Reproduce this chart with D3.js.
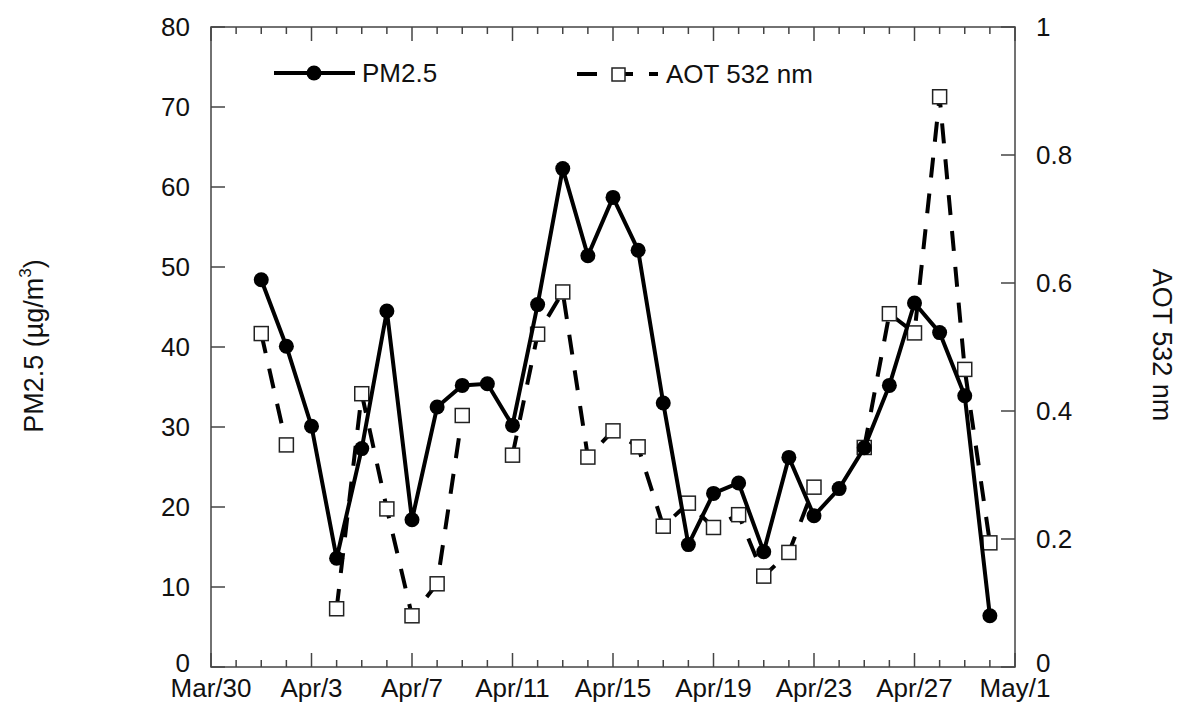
<!DOCTYPE html>
<html>
  <head>
    <script src="https://d3js.org/d3.v7.min.js"></script>
    <style>
      body { margin: 0; background: #fff; }
      text { font-family: "Liberation Sans", Arial, sans-serif; fill: #111; }
      .frame { fill: none; stroke: #444; stroke-width: 1.5; }
      .tick-line { stroke: #444; stroke-width: 1.5; }
    </style>
  </head>
  <body>
    <svg width="1185" height="709"></svg>
    <script>
      // data (daily values, April)
      var days = d3.range(1, 31).map(function(d) { return "Apr/" + d; });
      var pm25 = [48.4, 40.1, 30.1, 13.6, 27.3, 44.5, 18.4, 32.5, 35.2, 35.4,
                  30.2, 45.3, 62.3, 51.4, 58.7, 52.1, 33.0, 15.3, 21.7, 23.0,
                  14.4, 26.2, 18.9, 22.3, 27.4, 35.2, 45.5, 41.8, 33.9, 6.4];
      var aot = [0.521, 0.347, null, 0.091, 0.427, 0.247, 0.080, 0.130, 0.393, null,
                 0.331, 0.520, 0.586, 0.328, 0.369, 0.344, 0.220, 0.256, 0.218, 0.238,
                 0.142, 0.179, 0.281, null, 0.343, 0.552, 0.522, 0.891, 0.465, 0.194];
      var xTickLabels = ["Mar/30", "Apr/3", "Apr/7", "Apr/11", "Apr/15", "Apr/19", "Apr/23", "Apr/27", "May/1"];
      var leftTicks = [0, 10, 20, 30, 40, 50, 60, 70, 80];
      var rightTicks = [0, 0.2, 0.4, 0.6, 0.8, 1];

      var parse = function(s) { return d3.timeParse("%b/%d %Y")(s + " 2012"); };
      var dates = days.map(parse);
      var majorDates = xTickLabels.map(parse);

      var svg = d3.select("svg");
      var plotL = 211, plotR = 1015, plotT = 27, plotB = 667;

      var x = d3.scaleTime().domain([majorDates[0], majorDates[majorDates.length - 1]]).range([plotL, plotR]);
      var y = d3.scaleLinear().domain([0, 80]).range([plotB, plotT]);
      var y2 = d3.scaleLinear().domain([0, 1]).range([plotB, plotT]);

      var minorDates = d3.timeDay.range(majorDates[0], d3.timeDay.offset(majorDates[majorDates.length - 1], 1));

      // frame
      svg.append("rect").attr("class", "frame")
        .attr("x", plotL).attr("y", plotT).attr("width", plotR - plotL).attr("height", plotB - plotT);

      // x ticks (bottom & top, pointing inward)
      var isMajor = function(d) { return majorDates.some(function(m) { return +m === +d; }); };
      minorDates.forEach(function(d) {
        var len = isMajor(d) ? 14 : 7;
        svg.append("line").attr("class", "tick-line")
          .attr("x1", x(d)).attr("x2", x(d)).attr("y1", plotB).attr("y2", plotB - len);
        svg.append("line").attr("class", "tick-line")
          .attr("x1", x(d)).attr("x2", x(d)).attr("y1", plotT).attr("y2", plotT + len);
      });
      svg.selectAll(".xlab").data(xTickLabels).enter().append("text")
        .attr("x", function(d) { return x(parse(d)); })
        .attr("y", 697)
        .attr("text-anchor", "middle")
        .attr("font-size", 26)
        .text(function(d) { return d; });

      // zero labels sit a little higher so they clear the date labels
      var lift = function(v) { return v === 0 ? -4 : 0; };

      // left axis
      leftTicks.forEach(function(v) {
        svg.append("line").attr("class", "tick-line")
          .attr("x1", plotL).attr("x2", plotL + 14).attr("y1", y(v)).attr("y2", y(v));
        svg.append("text").attr("x", 190).attr("y", y(v) + lift(v)).attr("dy", "0.35em")
          .attr("text-anchor", "end").attr("font-size", 26).text(v);
      });

      // right axis
      rightTicks.forEach(function(v) {
        svg.append("line").attr("class", "tick-line")
          .attr("x1", plotR).attr("x2", plotR - 14).attr("y1", y2(v)).attr("y2", y2(v));
        svg.append("text").attr("x", 1036).attr("y", y2(v) + lift(v)).attr("dy", "0.35em")
          .attr("text-anchor", "start").attr("font-size", 26).text(v);
      });

      // axis titles
      var lt = svg.append("text")
        .attr("transform", "translate(43,346) rotate(-90)")
        .attr("text-anchor", "middle").attr("font-size", 27);
      lt.append("tspan").text("PM2.5 (\u00b5g/m");
      lt.append("tspan").attr("font-size", 17).attr("dy", -12).text("3");
      lt.append("tspan").attr("dy", 12).text(")");

      svg.append("text")
        .attr("transform", "translate(1153,345) rotate(90)")
        .attr("text-anchor", "middle").attr("font-size", 27)
        .text("AOT 532 nm");

      // AOT series (dashed, open squares)
      var aotLine = d3.line()
        .defined(function(d, i) { return aot[i] != null; })
        .x(function(d, i) { return x(dates[i]); })
        .y(function(d, i) { return y2(aot[i]); });
      svg.append("path").datum(aot)
        .attr("d", aotLine)
        .attr("fill", "none").attr("stroke", "#000").attr("stroke-width", 4)
        .attr("stroke-dasharray", "20,16");
      svg.selectAll(".sq").data(aot.map(function(v, i) { return {v: v, d: dates[i]}; })
          .filter(function(p) { return p.v != null; }))
        .enter().append("rect")
        .attr("x", function(p) { return x(p.d) - 7; })
        .attr("y", function(p) { return y2(p.v) - 7; })
        .attr("width", 14).attr("height", 14)
        .attr("fill", "#fff").attr("stroke", "#222").attr("stroke-width", 1.5);

      // PM2.5 series (solid, filled circles)
      var pmLine = d3.line()
        .x(function(d, i) { return x(dates[i]); })
        .y(function(d) { return y(d); });
      svg.append("path").datum(pm25)
        .attr("d", pmLine)
        .attr("fill", "none").attr("stroke", "#000").attr("stroke-width", 4);
      svg.selectAll(".dot").data(pm25).enter().append("circle")
        .attr("cx", function(d, i) { return x(dates[i]); })
        .attr("cy", function(d) { return y(d); })
        .attr("r", 7.5).attr("fill", "#000");

      // legend
      svg.append("line").attr("x1", 274).attr("x2", 355).attr("y1", 73).attr("y2", 73)
        .attr("stroke", "#000").attr("stroke-width", 4);
      svg.append("circle").attr("cx", 314).attr("cy", 73).attr("r", 7.5).attr("fill", "#000");
      svg.append("text").attr("x", 362).attr("y", 73).attr("dy", "0.35em")
        .attr("font-size", 26).text("PM2.5");

      svg.append("line").attr("x1", 577).attr("x2", 658).attr("y1", 74).attr("y2", 74)
        .attr("stroke", "#000").attr("stroke-width", 4).attr("stroke-dasharray", "20,16");
      svg.append("rect").attr("x", 612).attr("y", 68).attr("width", 13).attr("height", 13)
        .attr("fill", "#fff").attr("stroke", "#222").attr("stroke-width", 1.5);
      svg.append("text").attr("x", 666).attr("y", 74).attr("dy", "0.35em")
        .attr("font-size", 26).text("AOT 532 nm");
    </script>
  </body>
</html>
